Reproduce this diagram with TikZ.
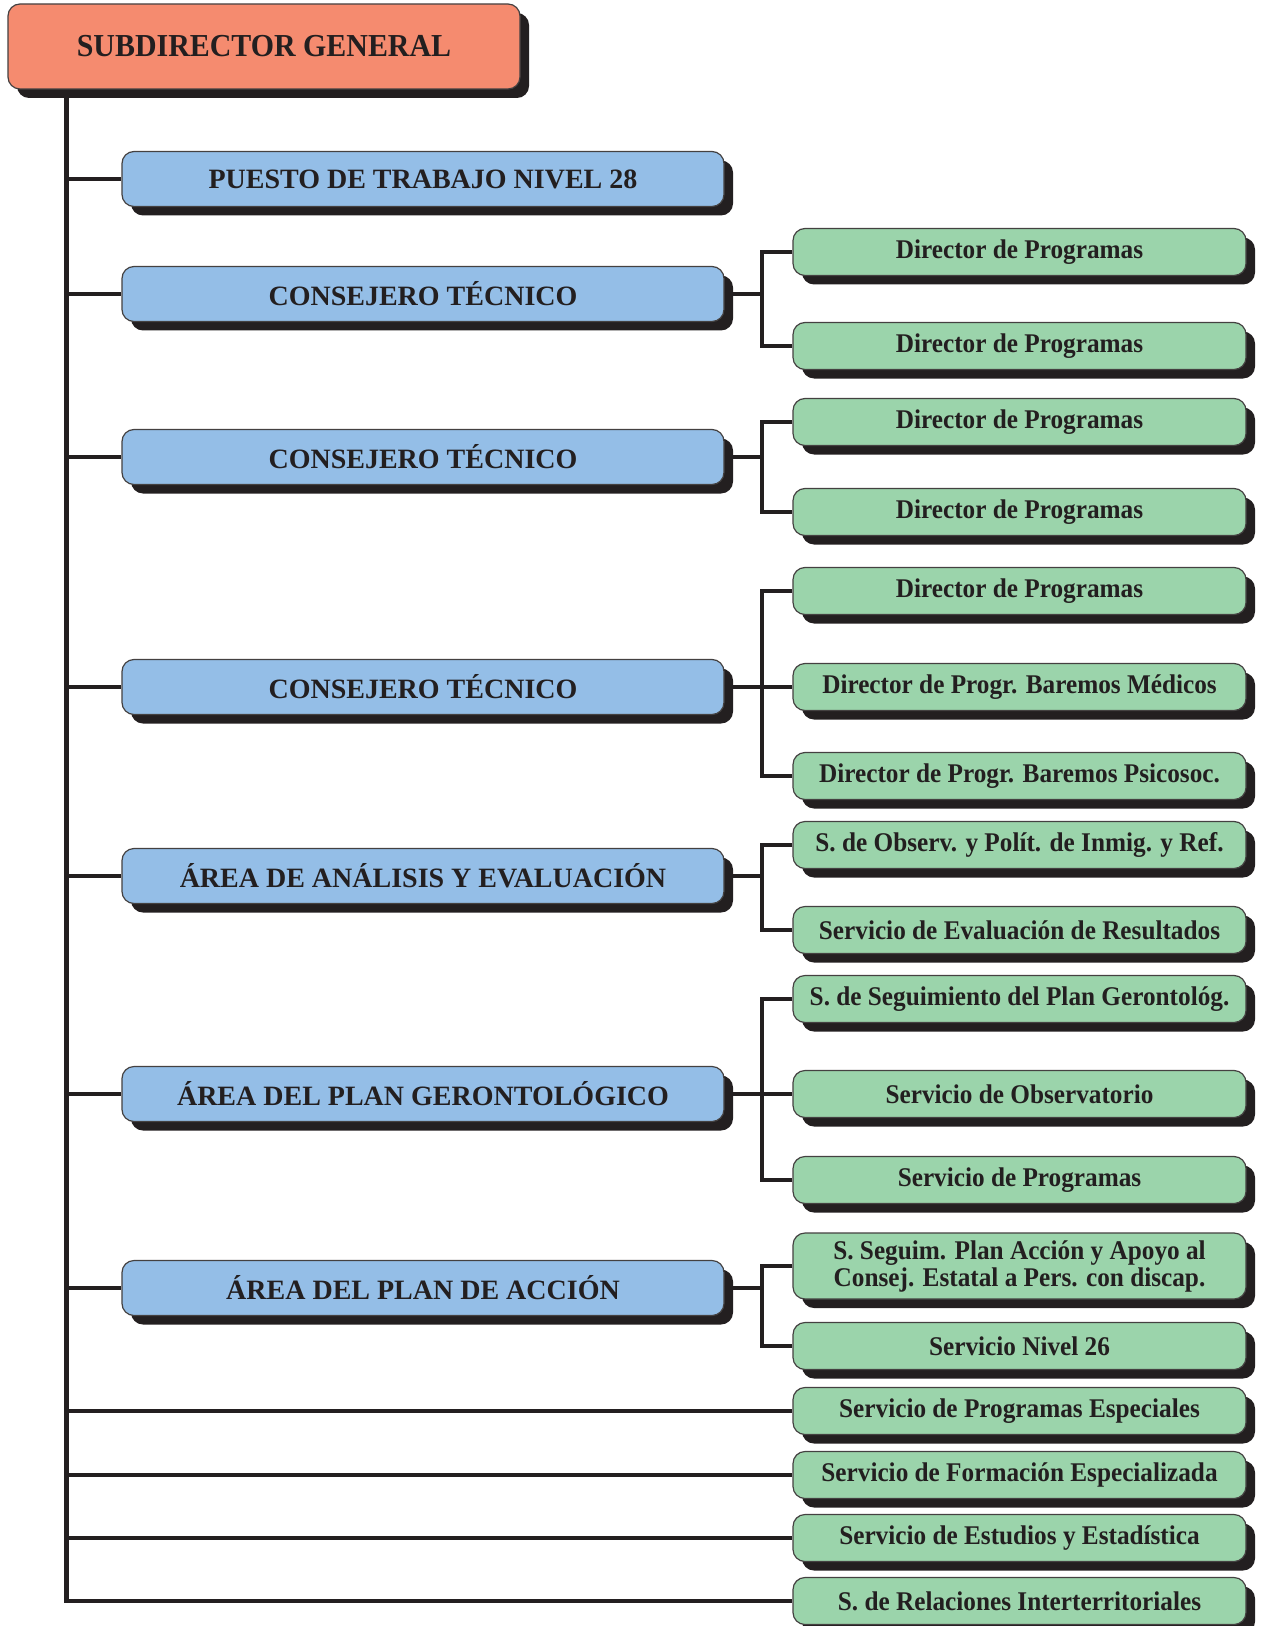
\documentclass[tikz,border=0pt]{standalone}
\usepackage{fontspec}
\setmainfont{Liberation Serif}
\newfontfamily\narrowser[FakeStretch=0.935]{Liberation Serif}
\usetikzlibrary{shadows}
\definecolor{salmon}{HTML}{F58B6F}
\definecolor{azul}{HTML}{94BEE7}
\definecolor{verde}{HTML}{9BD4AB}
\definecolor{tinta}{HTML}{231F20}
\tikzset{caja/.style={draw=tinta!85,line width=0.6pt,rounded corners=6pt,text=tinta,inner sep=0pt,
  font=\bfseries\fontsize{14}{14}\selectfont,
  drop shadow={shadow xshift=4.5pt,shadow yshift=-4.5pt,fill=tinta,opacity=1}}}
\tikzset{jefe/.style={caja,fill=salmon,minimum width=256pt,minimum height=42.5pt,font=\narrowser\bfseries\fontsize{16}{16}\selectfont}}
\tikzset{area/.style={caja,fill=azul,minimum width=301pt,minimum height=27.5pt}}
\tikzset{serv/.style={caja,fill=verde,minimum width=226.5pt,minimum height=23.5pt,align=center,font=\narrowser\bfseries\fontsize{13.5}{13.5}\selectfont}}
\tikzset{conn/.style={tinta,line width=2.4pt}}

\begin{document}
\begin{tikzpicture}[x=0.5pt,y=-0.5pt]
        \useasboundingbox (0,0) rectangle (1260,1626);
        % jefe
        \node[jefe] (SD) at (264,46.5) {SUBDIRECTOR GENERAL};
        % areas
        \node[area] (P28) at (423,179) {PUESTO DE TRABAJO NIVEL 28};
        \node[area] (C1) at (423,294) {CONSEJERO TÉCNICO};
        \node[area] (C2) at (423,457) {CONSEJERO TÉCNICO};
        \node[area] (C3) at (423,687) {CONSEJERO TÉCNICO};
        \node[area] (AA) at (423,876) {ÁREA DE ANÁLISIS Y EVALUACIÓN};
        \node[area] (AG) at (423,1094) {ÁREA DEL PLAN GERONTOLÓGICO};
        \node[area] (AP) at (423,1288) {ÁREA DEL PLAN DE ACCIÓN};
        % servicios
        \node[serv] (D1) at (1019.5,252) {Director de Programas};
        \node[serv] (D2) at (1019.5,346) {Director de Programas};
        \node[serv] (D3) at (1019.5,422) {Director de Programas};
        \node[serv] (D4) at (1019.5,512) {Director de Programas};
        \node[serv] (D5) at (1019.5,591) {Director de Programas};
        \node[serv] (BM) at (1019.5,687) {Director de Progr. Baremos Médicos};
        \node[serv] (BP) at (1019.5,776) {Director de Progr. Baremos Psicosoc.};
        \node[serv] (OI) at (1019.5,845) {S. de Observ. y Polít. de Inmig. y Ref.};
        \node[serv] (ER) at (1019.5,930) {Servicio de Evaluación de Resultados};
        \node[serv] (PG) at (1019.5,999) {S. de Seguimiento del Plan Gerontológ.};
        \node[serv] (OB) at (1019.5,1094) {Servicio de Observatorio};
        \node[serv] (SP) at (1019.5,1180) {Servicio de Programas};
        \node[serv,minimum height=33pt] (PA) at (1019.5,1266) {S. Seguim. Plan Acción y Apoyo al\\Consej. Estatal a Pers. con discap.};
        \node[serv] (N26) at (1019.5,1346) {Servicio Nivel 26};
        \node[serv] (PE) at (1019.5,1411) {Servicio de Programas Especiales};
        \node[serv] (FE) at (1019.5,1475) {Servicio de Formación Especializada};
        \node[serv] (EE) at (1019.5,1538) {Servicio de Estudios y Estadística};
        \node[serv] (RI) at (1019.5,1601) {S. de Relaciones Interterritoriales};
        % tronco
        \path (SD.south west) ++(59,0) coordinate (T0);
        \coordinate (J) at (762,0);
        \draw[conn] (T0) |- (RI.west);
        \foreach \n in {P28,C1,C2,C3,AA,AG,AP} \draw[conn] (T0 |- \n) -- (\n.west);
        \foreach \n in {PE,FE,EE} \draw[conn] (T0 |- \n) -- (\n.west);
        % ramas
        \foreach \a/\b/\c in {C1/D1/D2,C2/D3/D4,C3/D5/BP,AA/OI/ER,AG/PG/SP,AP/PA/N26} {
          \draw[conn] (\a.east) -- (\a.east -| J);
          \draw[conn] (\b.west) -- (\b.west -| J) -- (\c.west -| J) -- (\c.west);
        }
        \draw[conn] (BM.west -| J) -- (BM.west);
        \draw[conn] (OB.west -| J) -- (OB.west);
      \end{tikzpicture}
\end{document}
